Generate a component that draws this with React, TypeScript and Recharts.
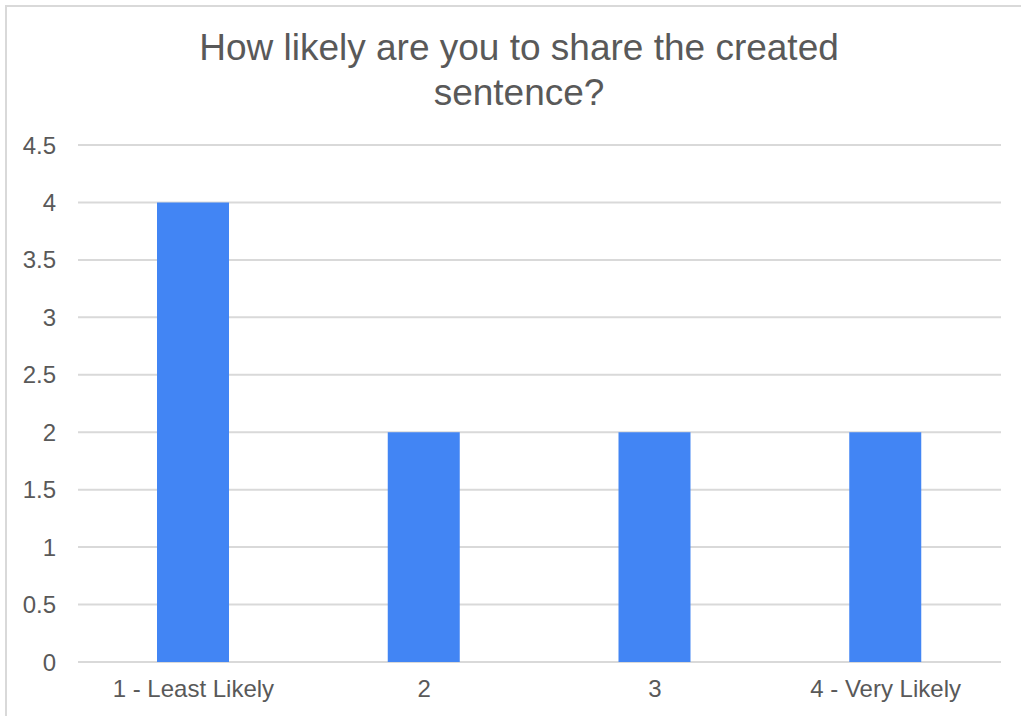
import { BarChart, Bar, XAxis, YAxis, CartesianGrid } from "recharts"

const categories = ["1 - Least Likely", "2", "3", "4 - Very Likely"]
const responses = [4, 2, 2, 2]
const yTicks = [0, 0.5, 1, 1.5, 2, 2.5, 3, 3.5, 4, 4.5]

const data = categories.map((name, i) => ({ name, value: responses[i] }))

const font = "'Liberation Sans', Arial, sans-serif"

export default function App() {
  return (
    <div
      style={{
        position: "absolute",
        left: 0,
        top: 0,
        width: 1021,
        height: 716,
        background: "#fff",
        overflow: "hidden",
        fontFamily: font,
      }}
    >
      <div
        style={{
          position: "absolute",
          left: 5,
          top: 5,
          width: 1100,
          height: 800,
          border: "2px solid #d9d9d9",
        }}
      />
      <div
        style={{
          position: "absolute",
          left: 0,
          top: 25,
          width: 1038,
          textAlign: "center",
          fontSize: 37,
          lineHeight: "45px",
          color: "#595959",
        }}
      >
        How likely are you to share the created
        <br />
        sentence?
      </div>
      <div style={{ position: "absolute", left: 0, top: 0 }}>
        <BarChart
          width={1021}
          height={716}
          data={data}
          margin={{ top: 145, right: 20, bottom: 14, left: 0 }}
        >
          <CartesianGrid vertical={false} stroke="#d9d9d9" strokeWidth={2} />
          <XAxis
            dataKey="name"
            axisLine={false}
            tickLine={false}
            tickSize={0}
            tickMargin={18}
            height={40}
            interval={0}
            tick={{ fill: "#595959", fontSize: 24, fontFamily: font }}
          />
          <YAxis
            domain={[0, 4.5]}
            ticks={yTicks}
            axisLine={false}
            tickLine={false}
            tickSize={0}
            tickMargin={22}
            width={78}
            tick={{ fill: "#595959", fontSize: 24, fontFamily: font }}
          />
          <Bar dataKey="value" fill="#4285f4" barSize={72} isAnimationActive={false} />
        </BarChart>
      </div>
    </div>
  )
}
